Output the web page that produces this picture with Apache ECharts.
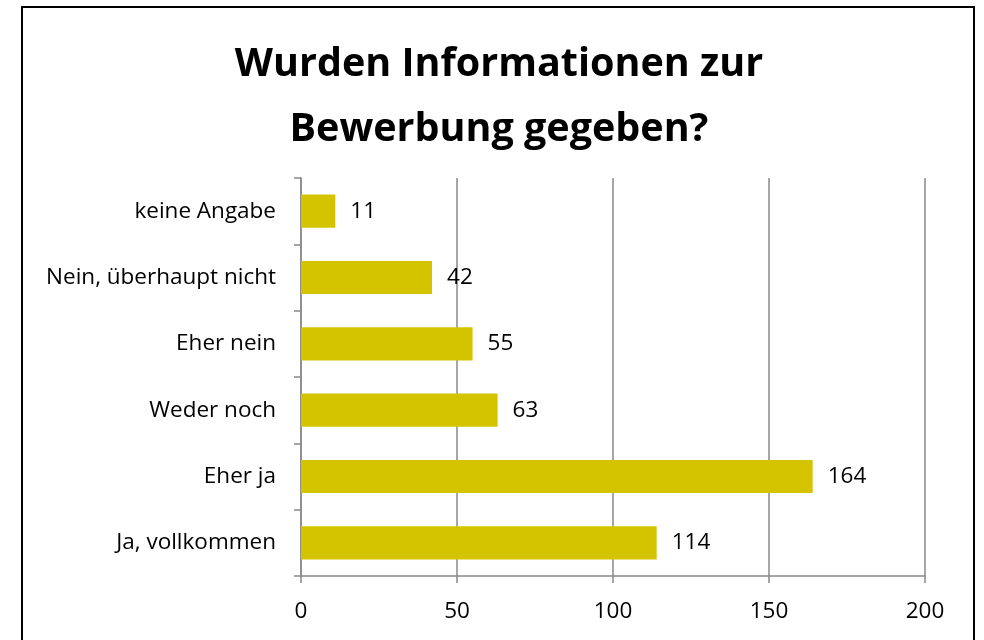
<!DOCTYPE html>
<html>
<head>
    <meta charset="utf8">
    <title>ECharts</title>
    <script src="https://cdn.jsdelivr.net/npm/echarts@6/dist/echarts.min.js"></script>
    <style>
        html, body { margin: 0; padding: 0; background: #fff; }
    </style>
</head>
<body>
    <div id="main" style="width: 984px;height:640px;"></div>
    <script type="text/javascript">
    // Daten (von unten nach oben)
    var kategorien = ['Ja, vollkommen', 'Eher ja', 'Weder noch', 'Eher nein', 'Nein, überhaupt nicht', 'keine Angabe'];
    var anzahl = [114, 164, 63, 55, 42, 11];
    var xTicks = [0, 50, 100, 150, 200];

    var myChart = echarts.init(document.getElementById('main'));
    var option = {
        backgroundColor: '#fff',
        textStyle: { fontFamily: 'Open Sans' },
        title: {
            text: 'Wurden Informationen zur\nBewerbung gegeben?',
            left: 494,
            textAlign: 'center',
            top: 27,
            textStyle: {
                fontSize: 39.5,
                fontWeight: 'bold',
                color: '#000',
                lineHeight: 65,
                fontFamily: 'Open Sans'
            }
        },
        graphic: [{
            type: 'rect',
            shape: { x: 22, y: 7, width: 952, height: 700 },
            style: { fill: 'none', stroke: '#000', lineWidth: 2 },
            silent: true
        }],
        grid: {
            left: 301,
            right: 59,
            top: 178,
            bottom: 64,
            containLabel: false
        },
        xAxis: {
            type: 'value',
            min: xTicks[0],
            max: xTicks[xTicks.length - 1],
            interval: 50,
            axisLine: { show: true, lineStyle: { color: '#888', width: 1.5 } },
            axisTick: { show: true, length: 7, lineStyle: { color: '#888', width: 1.5 } },
            splitLine: { show: true, lineStyle: { color: '#888', width: 1.5 } },
            axisLabel: { color: '#000', fontSize: 22.5, margin: 24 }
        },
        yAxis: {
            type: 'category',
            data: kategorien,
            axisLine: { show: true, lineStyle: { color: '#888', width: 1.5 } },
            axisTick: { show: true, length: 7, lineStyle: { color: '#888', width: 1.5 } },
            axisLabel: { color: '#000', fontSize: 22.5, margin: 25 }
        },
        series: [{
            type: 'bar',
            data: anzahl,
            barWidth: '50%',
            itemStyle: { color: '#d4c400' },
            label: {
                show: true,
                position: 'right',
                distance: 15,
                color: '#000',
                fontSize: 22.5
            }
        }]
    };
    myChart.setOption(option);
    </script>
</body>
</html>
